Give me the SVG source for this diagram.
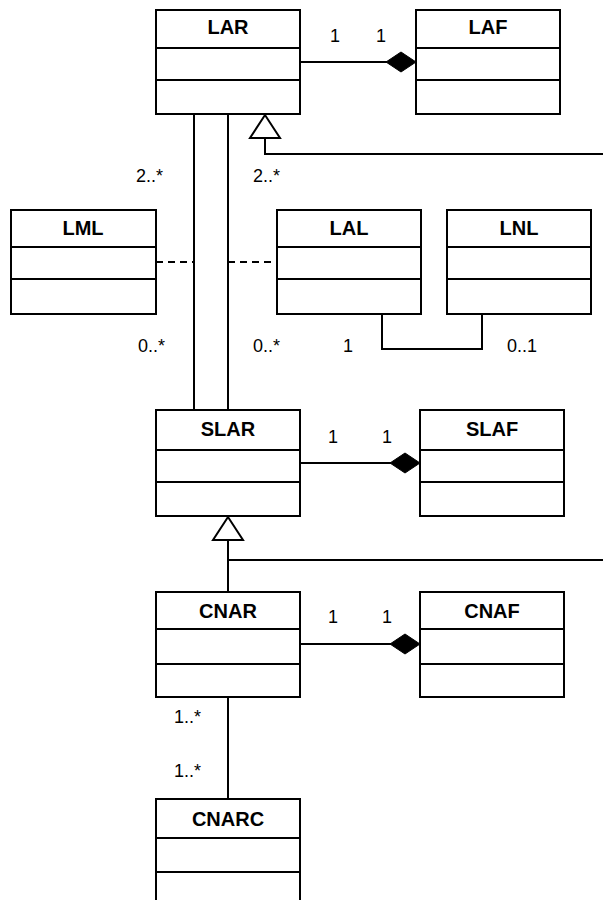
<svg xmlns="http://www.w3.org/2000/svg" width="603" height="900" viewBox="0 0 603 900">
<style>
.box{fill:#fff;stroke:#000;stroke-width:2}
.ln{fill:none;stroke:#000;stroke-width:2}
.dash{fill:none;stroke:#000;stroke-width:2;stroke-dasharray:7 5}
.title{font-family:"Liberation Sans",Arial,sans-serif;font-weight:bold;font-size:20px;text-anchor:middle;fill:#000}
.lbl{font-family:"Liberation Sans",Arial,sans-serif;font-size:18px;fill:#000}
.dia{fill:#000;stroke:#000;stroke-width:1}
.tri{fill:#fff;stroke:#000;stroke-width:2}
</style>
<rect width="603" height="900" fill="#fff"/>
<g id="connectors">
  <!-- LAR - LAF composition -->
  <line class="ln" x1="300" y1="62" x2="387" y2="62"/>
  <polygon class="dia" points="416,62 401,52 386,62 401,72"/>
  <!-- LAR to SLAR associations -->
  <line class="ln" x1="194" y1="114" x2="194" y2="410"/>
  <line class="ln" x1="228" y1="114" x2="228" y2="410"/>
  <!-- generalization into LAR -->
  <polyline class="ln" points="603,154 265,154 265,138"/>
  <polygon class="tri" points="265,115 250,138 280,138"/>
  <!-- dashed association class links -->
  <line class="dash" x1="156" y1="262" x2="194" y2="262"/>
  <line class="dash" x1="228" y1="262" x2="277" y2="262"/>
  <!-- LAL - LNL -->
  <polyline class="ln" points="382,314 382,349 482,349 482,314"/>
  <!-- SLAR - SLAF composition -->
  <line class="ln" x1="300" y1="463" x2="391" y2="463"/>
  <polygon class="dia" points="420,463 405,453 390,463 405,473"/>
  <!-- generalization into SLAR -->
  <polyline class="ln" points="603,560 228,560"/>
  <line class="ln" x1="228" y1="540" x2="228" y2="592"/>
  <polygon class="tri" points="228,517 213,540 243,540"/>
  <!-- CNAR - CNAF composition -->
  <line class="ln" x1="300" y1="644" x2="391" y2="644"/>
  <polygon class="dia" points="420,644 405,634 390,644 405,654"/>
  <!-- CNAR - CNARC -->
  <line class="ln" x1="228" y1="697" x2="228" y2="799"/>
  <!-- multiplicity labels -->
  <text class="lbl" x="330" y="42">1</text>
  <text class="lbl" x="376" y="42">1</text>
  <text class="lbl" x="136" y="182">2..*</text>
  <text class="lbl" x="253" y="182">2..*</text>
  <text class="lbl" x="138" y="352">0..*</text>
  <text class="lbl" x="253" y="352">0..*</text>
  <text class="lbl" x="343" y="352">1</text>
  <text class="lbl" x="507" y="352">0..1</text>
  <text class="lbl" x="328" y="443">1</text>
  <text class="lbl" x="382" y="443">1</text>
  <text class="lbl" x="328" y="623">1</text>
  <text class="lbl" x="382" y="623">1</text>
  <text class="lbl" x="174" y="723">1..*</text>
  <text class="lbl" x="174" y="777">1..*</text>
</g>
<g id="LAR">
  <rect class="box" x="156" y="10" width="144" height="104"/>
  <line class="ln" x1="156" y1="48" x2="300" y2="48"/>
  <line class="ln" x1="156" y1="80" x2="300" y2="80"/>
  <text class="title" x="228" y="34">LAR</text>
</g>
<g id="LAF">
  <rect class="box" x="416" y="10" width="144" height="104"/>
  <line class="ln" x1="416" y1="48" x2="560" y2="48"/>
  <line class="ln" x1="416" y1="80" x2="560" y2="80"/>
  <text class="title" x="488" y="34">LAF</text>
</g>
<g id="LML">
  <rect class="box" x="11" y="210" width="145" height="104"/>
  <line class="ln" x1="11" y1="247" x2="156" y2="247"/>
  <line class="ln" x1="11" y1="279" x2="156" y2="279"/>
  <text class="title" x="83" y="235">LML</text>
</g>
<g id="LAL">
  <rect class="box" x="277" y="210" width="144" height="104"/>
  <line class="ln" x1="277" y1="247" x2="421" y2="247"/>
  <line class="ln" x1="277" y1="279" x2="421" y2="279"/>
  <text class="title" x="349" y="235">LAL</text>
</g>
<g id="LNL">
  <rect class="box" x="447" y="210" width="144" height="104"/>
  <line class="ln" x1="447" y1="247" x2="591" y2="247"/>
  <line class="ln" x1="447" y1="279" x2="591" y2="279"/>
  <text class="title" x="519" y="235">LNL</text>
</g>
<g id="SLAR">
  <rect class="box" x="156" y="410" width="144" height="106"/>
  <line class="ln" x1="156" y1="450" x2="300" y2="450"/>
  <line class="ln" x1="156" y1="482" x2="300" y2="482"/>
  <text class="title" x="228" y="436">SLAR</text>
</g>
<g id="SLAF">
  <rect class="box" x="420" y="410" width="144" height="106"/>
  <line class="ln" x1="420" y1="450" x2="564" y2="450"/>
  <line class="ln" x1="420" y1="482" x2="564" y2="482"/>
  <text class="title" x="492" y="436">SLAF</text>
</g>
<g id="CNAR">
  <rect class="box" x="156" y="592" width="144" height="105"/>
  <line class="ln" x1="156" y1="629" x2="300" y2="629"/>
  <line class="ln" x1="156" y1="664" x2="300" y2="664"/>
  <text class="title" x="228" y="618">CNAR</text>
</g>
<g id="CNAF">
  <rect class="box" x="420" y="592" width="144" height="105"/>
  <line class="ln" x1="420" y1="629" x2="564" y2="629"/>
  <line class="ln" x1="420" y1="664" x2="564" y2="664"/>
  <text class="title" x="492" y="618">CNAF</text>
</g>
<g id="CNARC">
  <rect class="box" x="156" y="799" width="144" height="120"/>
  <line class="ln" x1="156" y1="838" x2="300" y2="838"/>
  <line class="ln" x1="156" y1="872" x2="300" y2="872"/>
  <text class="title" x="228" y="826">CNARC</text>
</g>
</svg>
